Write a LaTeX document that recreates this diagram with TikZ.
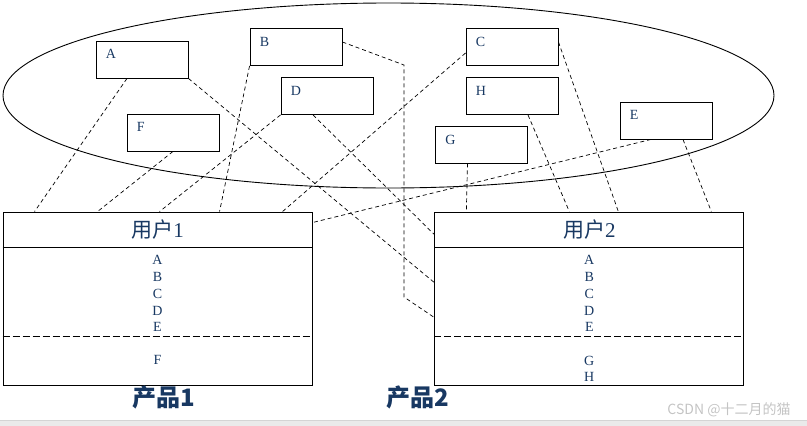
\documentclass[tikz,border=0pt]{standalone}
\usepackage{fontspec}
\setmainfont{Liberation Serif}
\newfontfamily\cjk{Noto Sans CJK SC}
\usetikzlibrary{positioning,calc}
\definecolor{txNavy}  {RGB}{ 24, 56, 98}
\definecolor{wmGray}  {RGB}{196,196,196}
\definecolor{bandGray}{RGB}{234,234,234}
\definecolor{bandLine}{RGB}{212,212,212}

\begin{document}
\begin{tikzpicture}[
  x=1pt,y=-1pt,
  every node/.style={font=\fontsize{14}{16.7}\selectfont,text=txNavy},
  item/.style={draw,line width=0.9pt,minimum width=92pt,
               minimum height=37pt,inner sep=0pt},
  tagtext/.style={anchor=north west,inner sep=0pt,xshift=10pt,yshift=-9pt},
  tag/.style={item,label={[tagtext]north west:#1}},
  panel/.style={draw,line width=0.9pt,minimum width=309pt,
                minimum height=173pt,inner sep=0pt},
  head/.style={font=\fontsize{21}{21}\selectfont,inner sep=0pt},
  list/.style={align=center,inner sep=0pt,anchor=north},
  prod/.style={font=\cjk\bfseries\fontsize{24}{24}\selectfont,inner sep=0pt},
  wmtext/.style={font=\cjk\fontsize{14}{14}\selectfont,text=wmGray,inner sep=0pt},
  link/.style={line width=0.7pt,dash pattern=on 4pt off 3pt},
  split/.style={line width=0.8pt,dash pattern=on 7pt off 3pt}
]
\useasboundingbox (0,0) rectangle (807,426);
% bottom strip
\fill[bandGray] (0,420) rectangle (807,426);
\draw[bandLine] (0,420) -- (807,420);
% pool of features
\draw[line width=0.9pt] (388.5,95.5) ellipse [x radius=385.5pt, y radius=92.5pt];
\node[tag=A] (nA) at (142,59.5)  {};
\node[tag=B] (nB) at (296,47)    {};
\node[tag=D] (nD) at (327,96)    {};
\node[tag=F] (nF) at (173,132.5) {};
\node[tag=C] (nC) at (512,47)    {};
\node[tag=H] (nH) at (512,96)    {};
\node[tag=G] (nG) at (481.5,144.5) {};
\node[tag=E] (nE) at (666,120.5) {};
% user boxes
\node[panel] (u1) at (157.5,298.5) {};
\node[panel] (u2) at (589.3,298.5) {};
\foreach \u in {u1,u2}{
  \draw[line width=0.9pt] ([yshift=-36pt]\u.north west) -- ([yshift=-36pt]\u.north east);
  \draw[split] ([yshift=-125pt]\u.north west) -- ([yshift=-125pt]\u.north east);
}
\node[head] (h1) at ([yshift=-18pt]u1.north) {{\cjk 用户}1};
\node[head] (h2) at ([yshift=-18pt]u2.north) {{\cjk 用户}2};
\node[list] (l1) at ([yshift=-44pt]u1.north) {A\\B\\C\\D\\E};
\node[list] (l2) at ([yshift=-44pt]u2.north) {A\\B\\C\\D\\E};
\node[list] (m1) at ([yshift=-144pt]u1.north) {F};
\node[list] (m2) at ([yshift=-144pt]u2.north) {G\\H};
% products
\node[prod] (p1) at (164,397) {产品1};
\node[prod] (p2) at (418,397) {产品2};
\node[wmtext] (wm) at (729,410) {CSDN @十二月的猫};
% links to user 1
\draw[link] ([xshift=-15pt]nA.south) -- ($(u1.north west)+(32,0)$);
\draw[link] (nF.south) -- ($(u1.north west)+(95,0)$);
\draw[link] (nD.south west) -- ($(u1.north west)+(157,0)$);
\draw[link] (nB.south west) -- ($(u1.north west)+(217,0)$);
\draw[link] ([yshift=-6pt]nC.west) -- ($(u1.north west)+(280,0)$);
\draw[link] ([xshift=-15pt]nE.south) -- ($(u1.north east)+(0,11)$);
% links to user 2
\coordinate (bk1) at (404,65);
\coordinate (bk2) at (404,297);
\draw[link] ([yshift=5pt]nB.east) -- (bk1) -- (bk2) -- ($(u2.north west)+(0,106)$);
\draw[link] ([xshift=-14pt]nD.south) -- ($(u2.north west)+(0,23)$);
\draw[link] (nA.south east) -- ($(u2.north west)+(0,71)$);
\draw[link] ([xshift=-14pt]nG.south) -- ($(u2.north west)+(32,0)$);
\draw[link] ([xshift=16pt]nH.south) -- ($(u2.north west)+(135,0)$);
\draw[link] ([yshift=5pt]nC.east) -- ($(u2.north west)+(184,0)$);
\draw[link] ([xshift=17pt]nE.south) -- ($(u2.north west)+(277,0)$);
\end{tikzpicture}
\end{document}
